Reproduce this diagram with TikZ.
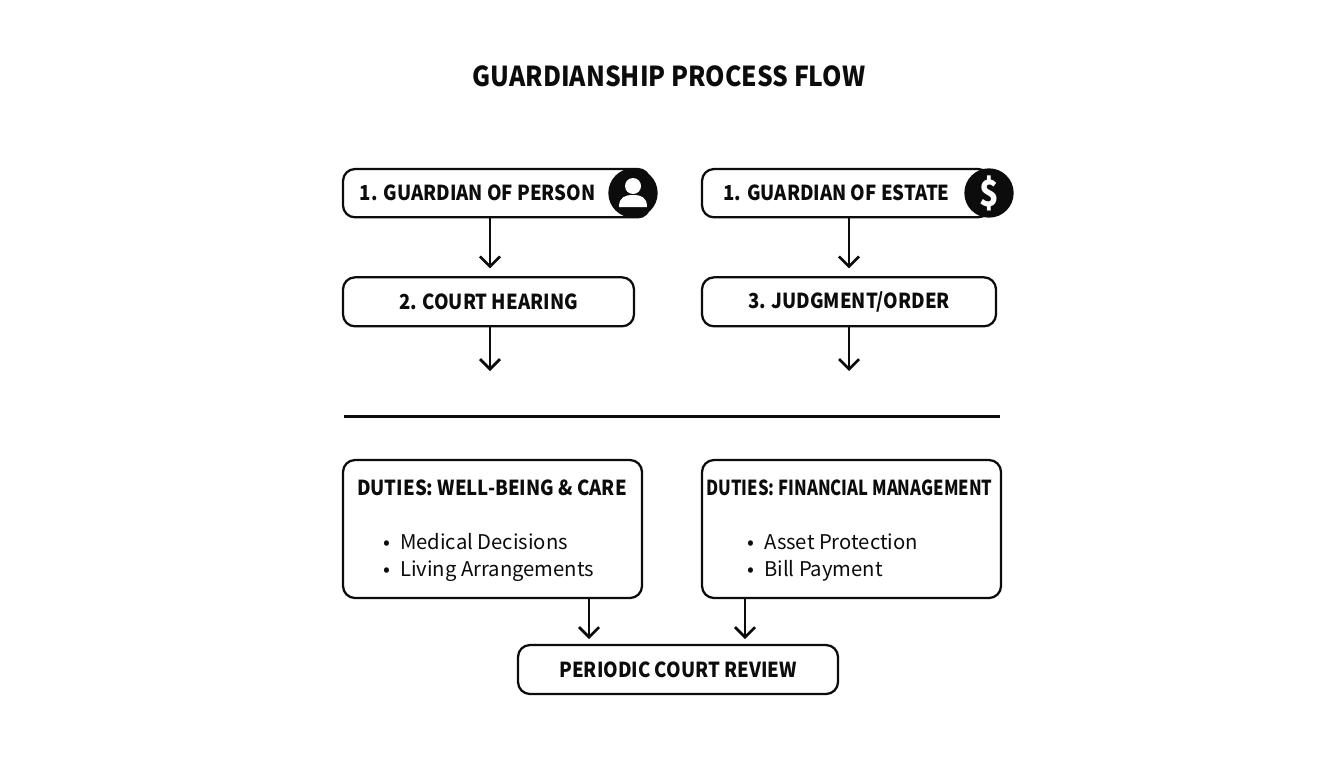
\documentclass[tikz,border=0pt]{standalone}
\usepackage{fontspec}
\setmainfont[FakeStretch=0.9]{Noto Sans CJK KR}
\newfontfamily\tightfont[FakeStretch=0.805]{Noto Sans CJK KR}
\newfontfamily\itemfont{Noto Sans CJK KR}
\usetikzlibrary{positioning,arrows.meta}
\definecolor{inkblack}{RGB}{12, 12, 12}

\begin{document}
\begin{tikzpicture}[x=0.75pt, y=-0.75pt, node distance=45pt,
    box/.style={rectangle, draw=inkblack, fill=white, line width=1.7pt, rounded corners=9pt, inner sep=0pt, outer sep=0pt, font=\bfseries\fontsize{15.5}{18}\selectfont, text=inkblack},
    guardbox/.style={box, anchor=north west, minimum width=#1, minimum height=36.25pt},
    headtext/.style={inner sep=0pt, font=\bfseries\fontsize{15.5}{18}\selectfont, text=inkblack},
    iconbadge/.style={circle, fill=inkblack, inner sep=0pt, minimum size=37pt},
    itemtext/.style={anchor=base west, inner sep=0pt, font=\itemfont\fontsize{15.2}{18}\selectfont, text=inkblack},
    flow/.style={->, line width=2pt, draw=inkblack, >={Straight Barb[length=7.5pt, width=15pt]}}]
    \useasboundingbox (0,0) rectangle (1344,768);

    % Title
    \node[headtext, font=\bfseries\fontsize{20.6}{24}\selectfont] (title) at (669,76) {GUARDIANSHIP PROCESS FLOW};

    % Guardian boxes
    \node[guardbox=230pt] (person) at (343,169) {};
    \node[guardbox=216pt] (estate) at (702,169) {};
    \node[headtext, right=12.5pt of person.west] (persontext) {1. GUARDIAN OF PERSON};
    \node[headtext, right=16pt of estate.west] (estatetext) {1. GUARDIAN OF ESTATE};

    % Icons
    \node[iconbadge] (personicon) at (633,193) {};
    \node[iconbadge, font=\bfseries\fontsize{27}{27}\selectfont, text=white] (estateicon) at (989,193) {\$};
    \fill[white] (633,186) circle (6pt);
    \fill[white] (619,207) .. controls (619,197) and (625,195) .. (633,195) .. controls (641,195) and (647,197) .. (647,207) -- cycle;

    % Next steps
    \node[box, minimum width=218.25pt, minimum height=36.75pt, below=of person.south west, anchor=north west] (hearing) {2. COURT HEARING};
    \node[box, minimum width=220.5pt, minimum height=36.75pt, below=of estate.south west, anchor=north west] (order) {3. JUDGMENT/ORDER};

    % Free arrow ends and divider
    \coordinate (hearingend) at (490,371);
    \coordinate (orderend) at (849,371);
    \coordinate (carearrow) at (589,639);
    \coordinate (moneyarrow) at (745,639);
    \coordinate (ruleleft) at (344,416.5);
    \coordinate (ruleright) at (1000,416.5);
    \draw[line width=1.7pt, draw=inkblack] (ruleleft) -- (ruleright);

    % Duties
    \node[box, anchor=north west, minimum width=224.25pt, minimum height=103.5pt] (care) at (343,460) {};
    \node[box, anchor=north west, minimum width=224.25pt, minimum height=103.5pt] (money) at (702,460) {};
    \node[headtext] (carehead) at (492,488) {DUTIES: WELL-BEING \& CARE};
    \node[headtext, font=\tightfont\bfseries\fontsize{15.5}{18}\selectfont] (moneyhead) at (849.5,488) {DUTIES: FINANCIAL MANAGEMENT};
    \node[itemtext] (med) at (383,549) {•\hspace{7.5pt}Medical Decisions};
    \node[itemtext] (liv) at (383,576) {•\hspace{7.5pt}Living Arrangements};
    \node[itemtext] (ast) at (747,549) {•\hspace{7.5pt}Asset Protection};
    \node[itemtext] (bil) at (747,576) {•\hspace{7.5pt}Bill Payment};

    % Review
    \node[box, anchor=north west, minimum width=240pt, minimum height=36.75pt] (review) at (518,645) {PERIODIC COURT REVIEW};

    % Arrows
    \draw[flow, shorten >=6.75pt] (person.south -| hearingend) -- (hearing.north -| hearingend);
    \draw[flow, shorten >=6.75pt] (estate.south -| orderend) -- (order.north -| orderend);
    \draw[flow] (hearing.south -| hearingend) -- (hearingend);
    \draw[flow] (order.south -| orderend) -- (orderend);
    \draw[flow] (care.south -| carearrow) -- (carearrow);
    \draw[flow] (money.south -| moneyarrow) -- (moneyarrow);
\end{tikzpicture}
\end{document}
